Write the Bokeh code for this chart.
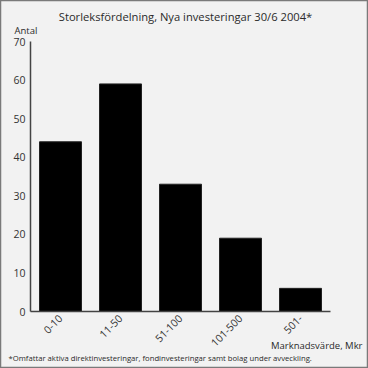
import math
from bokeh.plotting import figure
from bokeh.models import Label, FixedTicker, Range1d
from bokeh.embed import file_html
from bokeh.resources import INLINE

categories = ["0-10", "11-50", "51-100", "101-500", "501-"]
counts = [44, 59, 33, 19, 6]
y_ticks = [0, 10, 20, 30, 40, 50, 60, 70]

BG = "#f2f2f2"
FONT = "Open Sans"
TXT = "#2a2a2a"

W = H = 368
# plot area inside the canvas (pixels): left 30, right 330, top 41, bottom 311
PL, PR, PT, PB = 30, 330, 41, 311
n = len(categories)
xpx = (PR - PL) / n
ypx = (PB - PT) / 70.0
x0, x1 = -0.5, n - 0.5
x_range = Range1d(x0 - PL / xpx, x1 + (W - PR) / xpx)
y_range = Range1d(0 - (H - PB) / ypx, 70 + PT / ypx)

p = figure(width=W, height=H, x_range=x_range, y_range=y_range,
           output_backend="svg", toolbar_location=None,
           min_border=0, min_border_left=0, min_border_right=0,
           min_border_top=0, min_border_bottom=0)
p.background_fill_color = BG
p.border_fill_color = BG
p.outline_line_color = "#7a7a7a"
p.outline_line_width = 1.5
p.grid.grid_line_color = None

xs = list(range(n))
p.vbar(x=xs, top=counts, width=0.7, fill_color="black", line_color="#222222", line_width=1)

p.xaxis.fixed_location = 0
p.yaxis.fixed_location = x0
p.xaxis.bounds = (x0, x1)
p.yaxis.bounds = (0, 70)
p.xaxis.ticker = FixedTicker(ticks=xs)
p.xaxis.major_label_overrides = {i: c for i, c in zip(xs, categories)}
p.yaxis.ticker = FixedTicker(ticks=y_ticks)
for ax in (p.xaxis, p.yaxis):
    ax.major_tick_line_color = None
    ax.minor_tick_line_color = None
    ax.major_tick_out = 0
    ax.major_tick_in = 0
    ax.axis_line_color = "#444444"
    ax.axis_line_width = 1.5
    ax.major_label_text_font = FONT
    ax.major_label_text_font_size = "10.5px"
    ax.major_label_text_color = "#333333"
p.yaxis.major_label_standoff = 5
p.xaxis.major_label_orientation = math.pi / 4
p.xaxis.major_label_standoff = 5


def lab(text, x, y_top, align, size):
    p.add_layout(Label(x=x, y=H - y_top, x_units="screen", y_units="screen", text=text,
                       text_align=align, text_baseline="middle",
                       text_font=FONT, text_font_size=size, text_color=TXT))


lab("Storleksfördelning, Nya investeringar 30/6 2004*", 185, 16, "center", "11.2px")
lab("Antal", 14, 30, "left", "9.5px")
lab("Marknadsvärde, Mkr", 362, 345, "right", "9.5px")
lab("*Omfattar aktiva direktinvesteringar, fondinvesteringar samt bolag under avveckling.",
    8, 357, "left", "7.7px")

open("out.html", "w").write(file_html(p, INLINE))
